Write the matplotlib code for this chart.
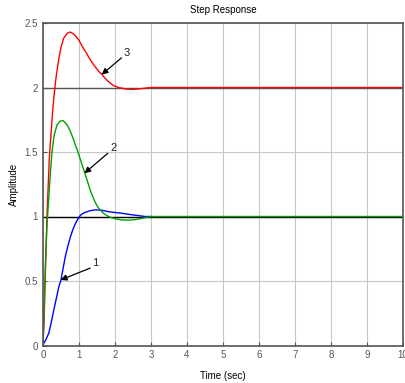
import matplotlib
matplotlib.use('Agg')
import matplotlib.pyplot as plt

plt.rcParams['font.family'] = ['Liberation Sans', 'DejaVu Sans']

# Step responses (time in sec, amplitude)
t1 = [0, 0.02, 0.08, 0.16, 0.23, 0.30, 0.37, 0.44, 0.50, 0.56, 0.62, 0.69, 0.76, 0.83, 0.90,
      0.97, 1.04, 1.13, 1.22, 1.31, 1.41, 1.50, 1.59, 1.70, 1.82, 2.0, 2.19, 2.38, 2.56, 2.70,
      2.84, 3.0]
y1 = [0, 0.017, 0.045, 0.095, 0.18, 0.275, 0.365, 0.456, 0.508, 0.60, 0.69, 0.77, 0.84, 0.90,
      0.945, 0.98, 1.01, 1.027, 1.037, 1.045, 1.05, 1.051, 1.05, 1.045, 1.037, 1.031, 1.025,
      1.017, 1.01, 1.005, 1.0, 1.0]

t2 = [0, 0.03, 0.07, 0.11, 0.16, 0.20, 0.25, 0.31, 0.39, 0.48, 0.56, 0.64, 0.70, 0.76, 0.83,
      0.90, 0.97, 1.04, 1.11, 1.18, 1.25, 1.31, 1.38, 1.45, 1.52, 1.59, 1.68, 1.78, 1.87, 1.96,
      2.08, 2.2, 2.38, 2.56, 2.70, 2.84, 3.0, 10]
y2 = [0, 0.3, 0.65, 0.93, 1.14, 1.32, 1.50, 1.63, 1.71, 1.74, 1.743, 1.72, 1.695, 1.66, 1.61,
      1.555, 1.50, 1.44, 1.38, 1.32, 1.26, 1.205, 1.155, 1.11, 1.075, 1.05, 1.025, 1.006, 0.994,
      0.986, 0.978, 0.973, 0.972, 0.976, 0.983, 0.991, 1.0, 1.0]

t3 = [0, 0.03, 0.065, 0.11, 0.175, 0.25, 0.30, 0.35, 0.40, 0.45, 0.50, 0.57, 0.67, 0.76, 0.85,
      0.92, 0.99, 1.06, 1.13, 1.20, 1.27, 1.36, 1.45, 1.55, 1.64, 1.73, 1.82, 1.96, 2.1, 2.3,
      2.5, 2.7, 2.9, 3.0, 10]
y3 = [0, 0.2, 0.55, 1.0, 1.45, 1.75, 1.92, 2.05, 2.15, 2.24, 2.31, 2.38, 2.42, 2.43, 2.415,
      2.395, 2.37, 2.335, 2.30, 2.27, 2.235, 2.195, 2.16, 2.125, 2.10, 2.07, 2.045, 2.015, 2.0,
      1.988, 1.985, 1.99, 1.997, 2.0, 2.0]

# labels: (text, text pos, arrow tip)
labels = [
    ('1', (1.37, 0.6), (0.49, 0.508)),
    ('2', (1.86, 1.49), (1.15, 1.335)),
    ('3', (2.24, 2.23), (1.63, 2.10)),
]

xticks = list(range(0, 11))
yticks = [0, 0.5, 1, 1.5, 2, 2.5]
ytick_labels = ['0', '0.5', '1', '1.5', '2', '2.5']

fig = plt.figure(figsize=(4.06, 3.83), dpi=100)
ax = fig.add_axes([43 / 406, 37.5 / 383, 360 / 406, 322.5 / 383])

ax.grid(True, color='#c8c8c8', linewidth=0.8)
ax.set_axisbelow(True)
ax.axhline(1, color='black', linewidth=1)
ax.axhline(2, color='#555555', linewidth=1)

ax.plot(t1, y1, color='#0000ff', linewidth=1)
ax.plot(t3, y3, color='#ff0000', linewidth=1)
ax.plot(t2, y2, color='#00a000', linewidth=1)

for txt, (tx, ty), (ax_, ay) in labels:
    ax.annotate('', xy=(ax_, ay), xytext=(tx - 0.06, ty),
                arrowprops=dict(arrowstyle='-|>', color='black', lw=0.9,
                                mutation_scale=9, shrinkA=0, shrinkB=0))
    ax.text(tx, ty, txt, fontsize=8, ha='left', va='bottom', color='#222222')

ax.set_xlim(0, 10)
ax.set_ylim(0, 2.5)
ax.set_xticks(xticks)
ax.set_yticks(yticks)
ax.set_yticklabels(ytick_labels)
ax.tick_params(direction='in', length=3, labelsize=7, colors='#555555',
               labelcolor='#555555', top=False, right=False)

for s in ax.spines.values():
    s.set_color('#555555')
    s.set_linewidth(1.2)

ax.set_title('Step Response', fontsize=7, pad=7)
ax.set_xlabel('Time (sec)', fontsize=7, labelpad=8)
ax.set_ylabel('Amplitude', fontsize=7, labelpad=4)

fig.savefig('out.png', dpi=100)
